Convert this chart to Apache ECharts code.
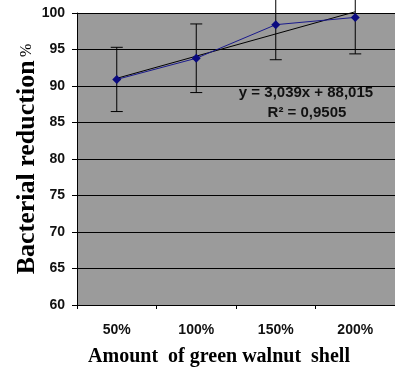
<!DOCTYPE html>
<html><head><meta charset="utf-8">
<script src="https://cdn.jsdelivr.net/npm/echarts@6/dist/echarts.min.js"></script>
<style>html,body{margin:0;padding:0;background:#fff}#c{width:395px;height:372px}</style>
</head><body><div id="c"></div>
<script>
const categories = ['50%', '100%', '150%', '200%'];
const reduction = [90.9, 93.8, 98.4, 99.4];
const errLow = [86.5, 89.1, 93.6, 94.4];
const errHigh = [95.3, 98.5, 103.2, 104.4];
const trend = [91.05, 94.09, 97.13, 100.17];
const yTicks = [60, 65, 70, 75, 80, 85, 90, 95, 100];
const equation = 'y = 3,039x + 88,015';
const r2 = 'R² = 0,9505';

const chart = echarts.init(document.getElementById('c'));
chart.setOption({
  animation: false,
  grid: { left: 77, top: 13, width: 318, height: 295, show: true, backgroundColor: '#9b9b9b', borderWidth: 0 },
  xAxis: {
    type: 'category', data: categories, boundaryGap: true,
    axisLine: { lineStyle: { color: '#000', width: 1 } },
    axisTick: { show: true, length: 4, lineStyle: { color: '#000' } },
    axisLabel: { margin: 18, fontFamily: 'Liberation Sans', fontWeight: 'bold', fontSize: 14, color: '#111' },
    name: 'Amount  of green walnut  shell', nameLocation: 'middle', nameGap: 42, nameMoveOverlap: false,
    nameTextStyle: { fontFamily: 'Liberation Serif', fontWeight: 'bold', fontSize: 20, color: '#000', padding: [0, 34, 0, 0] }
  },
  yAxis: {
    type: 'value', min: 60, max: 100, interval: 5,
    axisLine: { show: true, lineStyle: { color: '#000' } },
    axisTick: { show: true, length: 5, inside: false, lineStyle: { color: '#000' } },
    splitLine: { lineStyle: { color: '#000', width: 1 } },
    axisLabel: { margin: 12, fontFamily: 'Liberation Sans', fontWeight: 'bold', fontSize: 14, color: '#111',
      formatter: v => yTicks.includes(v) ? String(v) : '' },
    name: '{a|Bacterial reduction} {b|%}', nameLocation: 'middle', nameGap: 37, nameMoveOverlap: false,
    nameTextStyle: {
      rich: {
        a: { fontFamily: 'Liberation Serif', fontWeight: 'bold', fontSize: 26, color: '#000' },
        b: { fontFamily: 'Liberation Serif', fontWeight: 'normal', fontSize: 16, color: '#000', verticalAlign: 'middle' }
      }
    }
  },
  series: [
    {
      type: 'line', data: trend, clip: false, symbol: 'none',
      lineStyle: { color: '#000', width: 1 }, z: 3
    },
    {
      type: 'custom', clip: false, z: 4,
      data: categories.map((c, i) => [i, errLow[i], errHigh[i]]),
      renderItem: (params, api) => {
        const lo = api.coord([api.value(0), api.value(1)]);
        const hi = api.coord([api.value(0), api.value(2)]);
        const w = 6;
        const st = { stroke: '#000', lineWidth: 1 };
        return { type: 'group', children: [
          { type: 'line', shape: { x1: lo[0], y1: lo[1], x2: hi[0], y2: hi[1] }, style: st },
          { type: 'line', shape: { x1: lo[0]-w, y1: lo[1], x2: lo[0]+w, y2: lo[1] }, style: st },
          { type: 'line', shape: { x1: hi[0]-w, y1: hi[1], x2: hi[0]+w, y2: hi[1] }, style: st }
        ]};
      }
    },
    {
      type: 'line', data: reduction, symbol: 'diamond', symbolSize: 9, clip: false,
      lineStyle: { color: '#1a1a8c', width: 1 }, itemStyle: { color: '#0a0a80' }, z: 5
    }
  ],
  graphic: [
    { type: 'text', x: 306, y: 93, style: { text: equation, align: 'center', verticalAlign: 'middle', fontFamily: 'Liberation Sans', fontWeight: 'bold', fontSize: 15, fill: '#111' } },
    { type: 'text', x: 307, y: 113, style: { text: r2, align: 'center', verticalAlign: 'middle', fontFamily: 'Liberation Sans', fontWeight: 'bold', fontSize: 15, fill: '#111' } }
  ]
});
</script></body></html>
